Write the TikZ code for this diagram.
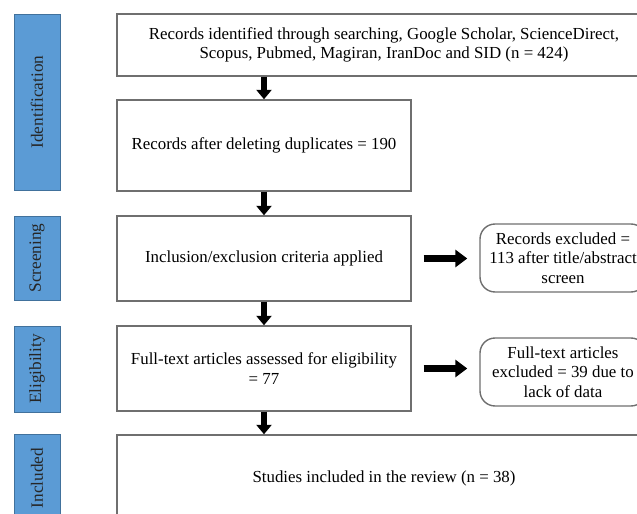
\documentclass[tikz,border=0pt]{standalone}
\usepackage{fontspec}
\setmainfont{Liberation Serif}
\usetikzlibrary{arrows.meta}

\definecolor{stageblue}{HTML}{5B9BD5}
\definecolor{stageedge}{HTML}{41719C}
\definecolor{boxedge}{HTML}{6F6F6F}

\begin{document}
\begin{tikzpicture}[x=0.02cm,y=-0.02cm,
    stage/.style={draw=stageedge,fill=stageblue,rotate=90,inner sep=0pt,
      minimum height=0.92cm,text=black!85,font=\fontsize{9.8}{11}\selectfont},
    stepbox/.style={draw=boxedge,line width=0.8pt,fill=white,inner sep=2pt,
      align=center,font=\fontsize{9.6}{11}\selectfont},
    exclbox/.style={stepbox,rounded corners=0.3cm},
    downarrow/.style={line width=0.12cm,-{Triangle[length=0.19cm,width=0.3cm]}},
    sidearrow/.style={line width=0.14cm,-{Triangle[length=0.24cm,width=0.34cm]},
      shorten <=0.24cm,shorten >=0.24cm}]
      \clip (0,0) rectangle (637,514);

      % stages on the left
      \node[stage,minimum width=3.52cm] (ident) at (37,102) {Identification};
      \node[stage,minimum width=1.68cm] (screen) at (37,258) {Screening};
      \node[stage,minimum width=1.72cm] (elig) at (37,369) {Eligibility};
      \node[stage,minimum width=1.76cm] (incl) at (37,478) {Included};

      % main flow
      \node[stepbox,minimum width=10.68cm,minimum height=1.24cm] (found) at (384,45)
        {Records identified through searching, Google Scholar, ScienceDirect,\\
         Scopus, Pubmed, Magiran, IranDoc and SID (n = 424)};
      \node[stepbox,minimum width=5.88cm,minimum height=1.82cm] (dedup) at (264,145.5)
        {Records after deleting duplicates = 190};
      \node[stepbox,minimum width=5.88cm,minimum height=1.70cm] (crit) at (264,258.5)
        {Inclusion/exclusion criteria applied};
      \node[stepbox,minimum width=5.88cm,minimum height=1.70cm] (full) at (264,368.5)
        {Full-text articles assessed for eligibility\\ = 77};
      \node[stepbox,minimum width=10.68cm,minimum height=1.74cm] (study) at (384,478.5)
        {Studies included in the review (n = 38)};

      % excluded records
      \node[exclbox,minimum width=3.32cm,minimum height=1.36cm] (excla) at (563,258)
        {Records excluded =\\ 113 after title/abstract\\ screen};
      \node[exclbox,minimum width=3.32cm,minimum height=1.36cm] (exclb) at (563,372)
        {Full-text articles\\ excluded = 39 due to\\ lack of data};

      \draw[downarrow] (dedup.north |- found.south) -- (dedup.north);
      \draw[downarrow] (dedup.south) -- (crit.north);
      \draw[downarrow] (crit.south) -- (full.north);
      \draw[downarrow] (full.south) -- (full.south |- study.north);

      \draw[sidearrow] (crit.east) -- (crit.east -| excla.west);
      \draw[sidearrow] (full.east) -- (full.east -| exclb.west);

\end{tikzpicture}
\end{document}
